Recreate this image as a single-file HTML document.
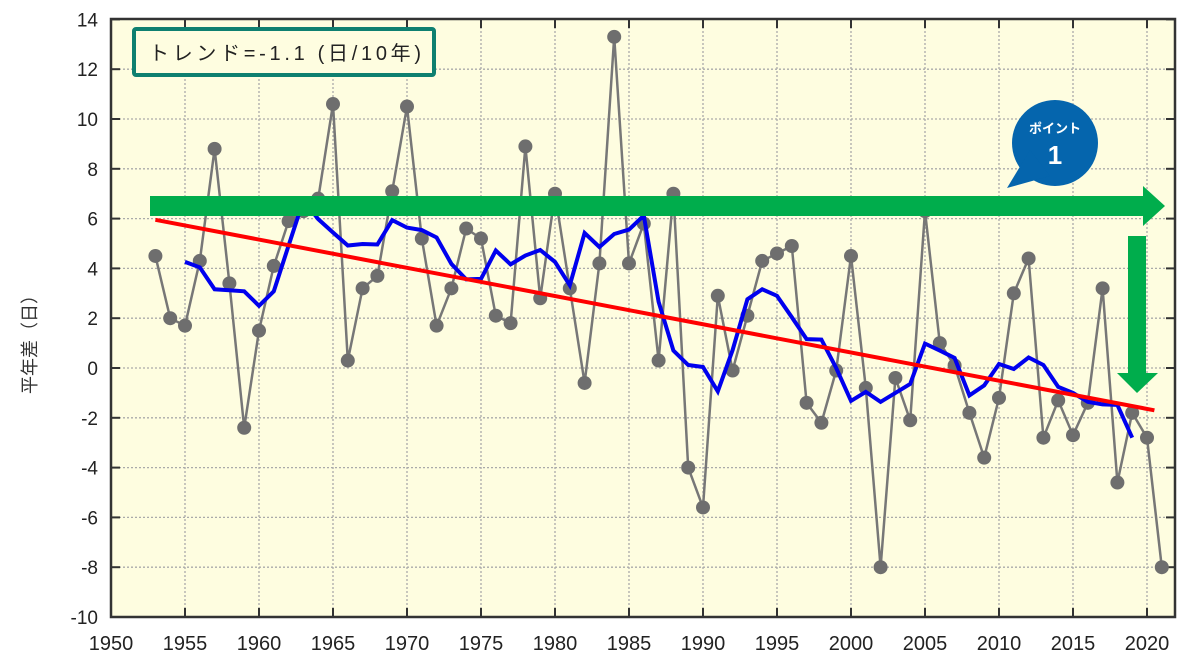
<!DOCTYPE html>
<html><head><meta charset="utf-8"><style>
html,body{margin:0;padding:0;background:#fff;width:1186px;height:670px;overflow:hidden}
svg{display:block}
text{font-family:"Liberation Sans","Noto Sans CJK JP",sans-serif}
</style></head><body>
<svg id="s" width="1186" height="670" xmlns="http://www.w3.org/2000/svg"></svg>
<script>
const s=document.getElementById('s');
const X=y=>111+(y-1950)*14.8, Y=v=>368-v*24.9;
const d=[4.5,2.0,1.7,4.3,8.8,3.4,-2.4,1.5,4.1,5.9,6.3,6.8,10.6,0.3,3.2,3.7,7.1,10.5,5.2,1.7,3.2,5.6,5.2,2.1,1.8,8.9,2.8,7.0,3.2,-0.6,4.2,13.3,4.2,5.8,0.3,7.0,-4.0,-5.6,2.9,-0.1,2.1,4.3,4.6,4.9,-1.4,-2.2,-0.1,4.5,-0.8,-8.0,-0.4,-2.1,6.3,1.0,0.1,-1.8,-3.6,-1.2,3.0,4.4,-2.8,-1.3,-2.7,-1.4,3.2,-4.6,-1.8,-2.8,-8.0];
let h='';
h+=`<rect x="111" y="19" width="1064" height="598" fill="#fefde0" stroke="#333" stroke-width="2.5"/>`;
for(let v=-8;v<=12;v+=2)h+=`<line x1="111" x2="1175" y1="${Y(v)}" y2="${Y(v)}" stroke="#aaa" stroke-width="1.3" stroke-dasharray="2,2"/>`;
for(let y=1955;y<=2020;y+=5)h+=`<line x1="${X(y)}" x2="${X(y)}" y1="19" y2="617" stroke="#aaa" stroke-width="1.3" stroke-dasharray="2,2"/>`;
for(let v=-10;v<=14;v+=2){h+=`<line x1="111" x2="120" y1="${Y(v)}" y2="${Y(v)}" stroke="#333" stroke-width="2"/><line x1="1166" x2="1175" y1="${Y(v)}" y2="${Y(v)}" stroke="#333" stroke-width="2"/><text x="98" y="${Y(v)+7}" font-size="19" text-anchor="end" fill="#222">${v}</text>`;}
for(let y=1950;y<=2020;y+=5){h+=`<line x1="${X(y)}" x2="${X(y)}" y1="608" y2="617" stroke="#333" stroke-width="2"/><line x1="${X(y)}" x2="${X(y)}" y1="19" y2="28" stroke="#333" stroke-width="2"/><text x="${X(y)}" y="650" font-size="20" text-anchor="middle" fill="#222">${y}</text>`;}
h+=`<text transform="translate(36,340) rotate(-90)" font-size="18" text-anchor="middle" fill="#333">平年差（日）</text>`;
let p=d.map((v,i)=>`${X(1953+i).toFixed(1)},${Y(v).toFixed(1)}`).join(' ');
h+=`<polyline points="${p}" fill="none" stroke="#777" stroke-width="2.5"/>`;
d.forEach((v,i)=>h+=`<circle cx="${X(1953+i)}" cy="${Y(v)}" r="7" fill="#6e6e6e"/>`);
let m=[];for(let i=2;i<d.length-2;i++){let a=(d[i-2]+d[i-1]+d[i]+d[i+1]+d[i+2])/5;m.push(`${X(1953+i).toFixed(1)},${Y(a).toFixed(1)}`);}
h+=`<polyline points="${m.join(' ')}" fill="none" stroke="#0000ee" stroke-width="4"/>`;
h+=`<line x1="${X(1953)}" y1="${Y(5.95)}" x2="${X(2020.5)}" y2="${Y(-1.7)}" stroke="#ff0000" stroke-width="4"/>`;
h+=`<rect x="150" y="196" width="995" height="20" fill="#00ad4c"/><polygon points="1143,186 1165,206 1143,226" fill="#00ad4c"/>`;
h+=`<rect x="1128" y="236" width="18" height="140" fill="#00ad4c"/><polygon points="1117,373 1158,373 1137,393" fill="#00ad4c"/>`;
h+=`<circle cx="1055" cy="143" r="43" fill="#0565ad"/><polygon points="1007,188 1030,150 1050,176" fill="#0565ad"/>`;
h+=`<text x="1055" y="133" font-size="13" font-weight="bold" fill="#fff" text-anchor="middle">ポイント</text><text x="1055" y="164" font-size="26" font-weight="bold" fill="#fff" text-anchor="middle">1</text>`;
h+=`<rect x="134" y="29" width="300" height="46" fill="#fefde0" stroke="#0e8070" stroke-width="4" rx="2"/>`;
h+=`<text x="149" y="60" font-size="20" fill="#222" font-family="Liberation Mono,Noto Sans CJK JP,monospace" textLength="272">トレンド=-1.1 (日/10年)</text>`;
s.innerHTML=h;
</script>
</body></html>
